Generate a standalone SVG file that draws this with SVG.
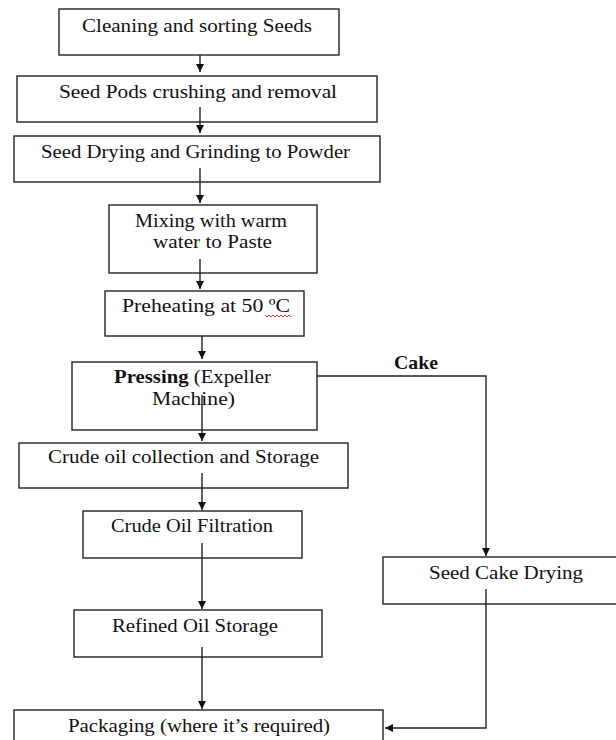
<svg xmlns="http://www.w3.org/2000/svg" width="616" height="740" viewBox="0 0 616 740">
<defs>
<style>
.box{fill:#fff;stroke:#222;stroke-width:1.4}
.t{font-family:"Liberation Serif","Times New Roman",serif;font-size:19px;fill:#111}
.b{font-weight:bold}
.c{fill:none;stroke:#222;stroke-width:1.4}
</style>
<marker id="ah" markerUnits="userSpaceOnUse" markerWidth="9" markerHeight="9" refX="8" refY="4" orient="auto">
<path d="M0,0 L8,4 L0,8 z" fill="#111"/>
</marker>
</defs>
<rect width="616" height="740" fill="#fff"/>
<g id="n1"><rect class="box" x="59" y="9" width="280" height="46"/><text class="t" x="82" y="32" textLength="230" lengthAdjust="spacingAndGlyphs">Cleaning and sorting Seeds</text></g>
<g id="n2"><rect class="box" x="17" y="76" width="360" height="46"/><text class="t" x="59" y="98" textLength="278" lengthAdjust="spacingAndGlyphs">Seed Pods crushing and removal</text></g>
<g id="n3"><rect class="box" x="14" y="136" width="366" height="46"/><text class="t" x="41" y="158" textLength="309" lengthAdjust="spacingAndGlyphs">Seed Drying and Grinding to Powder</text></g>
<g id="n4"><rect class="box" x="109" y="205" width="208" height="68"/><text class="t" x="135" y="227" textLength="152" lengthAdjust="spacingAndGlyphs">Mixing with warm</text><text class="t" x="153" y="248" textLength="119" lengthAdjust="spacingAndGlyphs">water to Paste</text></g>
<g id="n5"><rect class="box" x="105" y="291" width="199" height="45"/><text class="t" x="122" y="312" textLength="168" lengthAdjust="spacingAndGlyphs">Preheating at 50 ºC</text><path d="M265,315 l2,2 l2,-2 l2,2 l2,-2 l2,2 l2,-2 l2,2 l2,-2 l2,2 l2,-2 l2,2 l2,-2 l2,2" fill="none" stroke="#e02020" stroke-width="0.9"/></g>
<g id="n6"><rect class="box" x="72" y="362" width="245" height="68"/><text class="t" x="114" y="383" textLength="157" lengthAdjust="spacingAndGlyphs"><tspan class="b">Pressing</tspan> (Expeller</text><text class="t" x="152" y="405" textLength="83" lengthAdjust="spacingAndGlyphs">Machine)</text></g>
<g id="n7"><rect class="box" x="19" y="443" width="329" height="45"/><text class="t" x="48" y="463" textLength="271" lengthAdjust="spacingAndGlyphs">Crude oil collection and Storage</text></g>
<g id="n8"><rect class="box" x="83" y="511" width="219" height="47"/><text class="t" x="111" y="532" textLength="162" lengthAdjust="spacingAndGlyphs">Crude Oil Filtration</text></g>
<g id="n9"><rect class="box" x="74" y="610" width="248" height="47"/><text class="t" x="112" y="632" textLength="166" lengthAdjust="spacingAndGlyphs">Refined Oil Storage</text></g>
<g id="n10"><rect class="box" x="14" y="710" width="369" height="40"/><text class="t" x="68" y="732" textLength="262" lengthAdjust="spacingAndGlyphs">Packaging (where it’s required)</text></g>
<g id="n11"><rect class="box" x="383" y="557" width="240" height="47"/><text class="t" x="429" y="579" textLength="154" lengthAdjust="spacingAndGlyphs">Seed Cake Drying</text></g>
<g id="connectors">
<line class="c" x1="200" y1="55" x2="200" y2="72" marker-end="url(#ah)"/>
<line class="c" x1="200" y1="107" x2="200" y2="133" marker-end="url(#ah)"/>
<line class="c" x1="200" y1="168" x2="200" y2="203" marker-end="url(#ah)"/>
<line class="c" x1="200" y1="259" x2="200" y2="289" marker-end="url(#ah)"/>
<line class="c" x1="202" y1="336" x2="202" y2="359" marker-end="url(#ah)"/>
<line class="c" x1="202" y1="395" x2="202" y2="441" marker-end="url(#ah)"/>
<line class="c" x1="202" y1="473" x2="202" y2="510" marker-end="url(#ah)"/>
<line class="c" x1="202" y1="543" x2="202" y2="609" marker-end="url(#ah)"/>
<line class="c" x1="202" y1="647" x2="202" y2="709" marker-end="url(#ah)"/>
<polyline class="c" points="317,376 486,376 486,556" marker-end="url(#ah)"/>
<polyline class="c" points="486,589 486,728 385,728" marker-end="url(#ah)"/>
<text class="t b" x="394" y="369" textLength="44" lengthAdjust="spacingAndGlyphs">Cake</text>
</g>
</svg>
